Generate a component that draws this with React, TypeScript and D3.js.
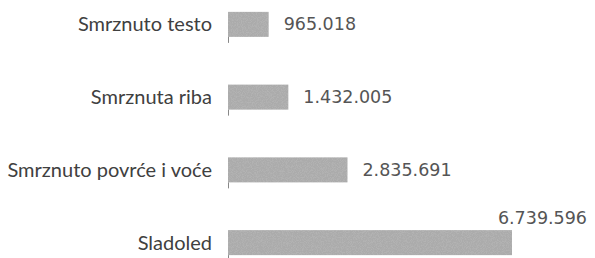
import * as d3 from "d3";
import { useEffect, useRef } from "react";

const categories = ["Smrznuto testo", "Smrznuta riba", "Smrznuto povrće i voće", "Sladoled"];
const values = [965018, 1432005, 2835691, 6739596];
const valueLabels = ["965.018", "1.432.005", "2.835.691", "6.739.596"];

const width = 595;
const height = 258;

export default function App() {
    const svgRef = useRef<SVGSVGElement>(null);

    useEffect(() => {
        const svg = d3.select(svgRef.current);
        svg.selectAll("*").remove();

        // scan-like grain for the bars
        const defs = svg.append("defs");
        const f = defs.append("filter")
            .attr("id", "grain")
            .attr("filterUnits", "userSpaceOnUse")
            .attr("x", 0).attr("y", 0)
            .attr("width", width).attr("height", height);
        f.append("feTurbulence")
            .attr("type", "fractalNoise")
            .attr("baseFrequency", 1.2)
            .attr("numOctaves", 1)
            .attr("seed", 7)
            .attr("result", "noise");
        f.append("feColorMatrix")
            .attr("in", "noise")
            .attr("type", "matrix")
            .attr("values", "0 0 0 0 0.45  0 0 0 0 0.45  0 0 0 0 0.45  0 0 0 4 -1.7")
            .attr("result", "dots");
        f.append("feComposite").attr("in", "dots").attr("in2", "SourceGraphic").attr("operator", "atop");

        const x = d3.scaleLinear()
            .domain([0, d3.max(values)!])
            .range([228, 512]);

        const y = d3.scaleBand<string>()
            .domain(categories)
            .range([-12, 279])
            .paddingInner(0.656)
            .paddingOuter(0.328);

        const g = svg.append("g");

        // bars
        g.selectAll("rect.bar")
            .data(categories)
            .join("rect")
            .attr("class", "bar")
            .attr("x", x(0))
            .attr("y", d => y(d)!)
            .attr("width", (_, i) => x(values[i]) - x(0))
            .attr("height", y.bandwidth())
            .attr("fill", "#ababab")
            .attr("filter", "url(#grain)");

        // bits of the axis line that survived the scan
        g.selectAll("line.axis")
            .data(categories)
            .join("line")
            .attr("class", "axis")
            .attr("x1", x(0) + 0.5)
            .attr("x2", x(0) + 0.5)
            .attr("y1", d => y(d)! + y.bandwidth())
            .attr("y2", d => y(d)! + y.bandwidth() + 6)
            .attr("stroke", "#888")
            .attr("stroke-width", 1);

        // category labels
        g.selectAll("text.cat")
            .data(categories)
            .join("text")
            .attr("class", "cat")
            .attr("x", 212)
            .attr("y", d => y(d)! + y.bandwidth() / 2 + 2)
            .attr("text-anchor", "end")
            .attr("dominant-baseline", "middle")
            .attr("font-family", "Lato, 'Noto Sans', sans-serif")
            .attr("font-size", 20)
            .attr("fill", "#404040")
            .text(d => d);

        // value labels, the last one sits above its bar
        const last = categories.length - 1;
        g.selectAll("text.val")
            .data(categories)
            .join("text")
            .attr("class", "val")
            .attr("x", (_, i) => i === last ? 587 : x(values[i]) + 15)
            .attr("y", (d, i) => i === last ? y(d)! - 6 : y(d)! + y.bandwidth() / 2 + 1)
            .attr("text-anchor", (_, i) => i === last ? "end" : "start")
            .attr("dominant-baseline", (_, i) => i === last ? "auto" : "middle")
            .attr("font-family", "'DejaVu Sans', Verdana, sans-serif")
            .attr("font-size", 17.5)
            .attr("fill", "#555")
            .text((_, i) => valueLabels[i]);
    }, []);

    return (
        <svg
            ref={svgRef}
            width={width}
            height={height}
            style={{ position: "absolute", left: 0, top: 0, background: "#fff" }}
        />
    );
}
